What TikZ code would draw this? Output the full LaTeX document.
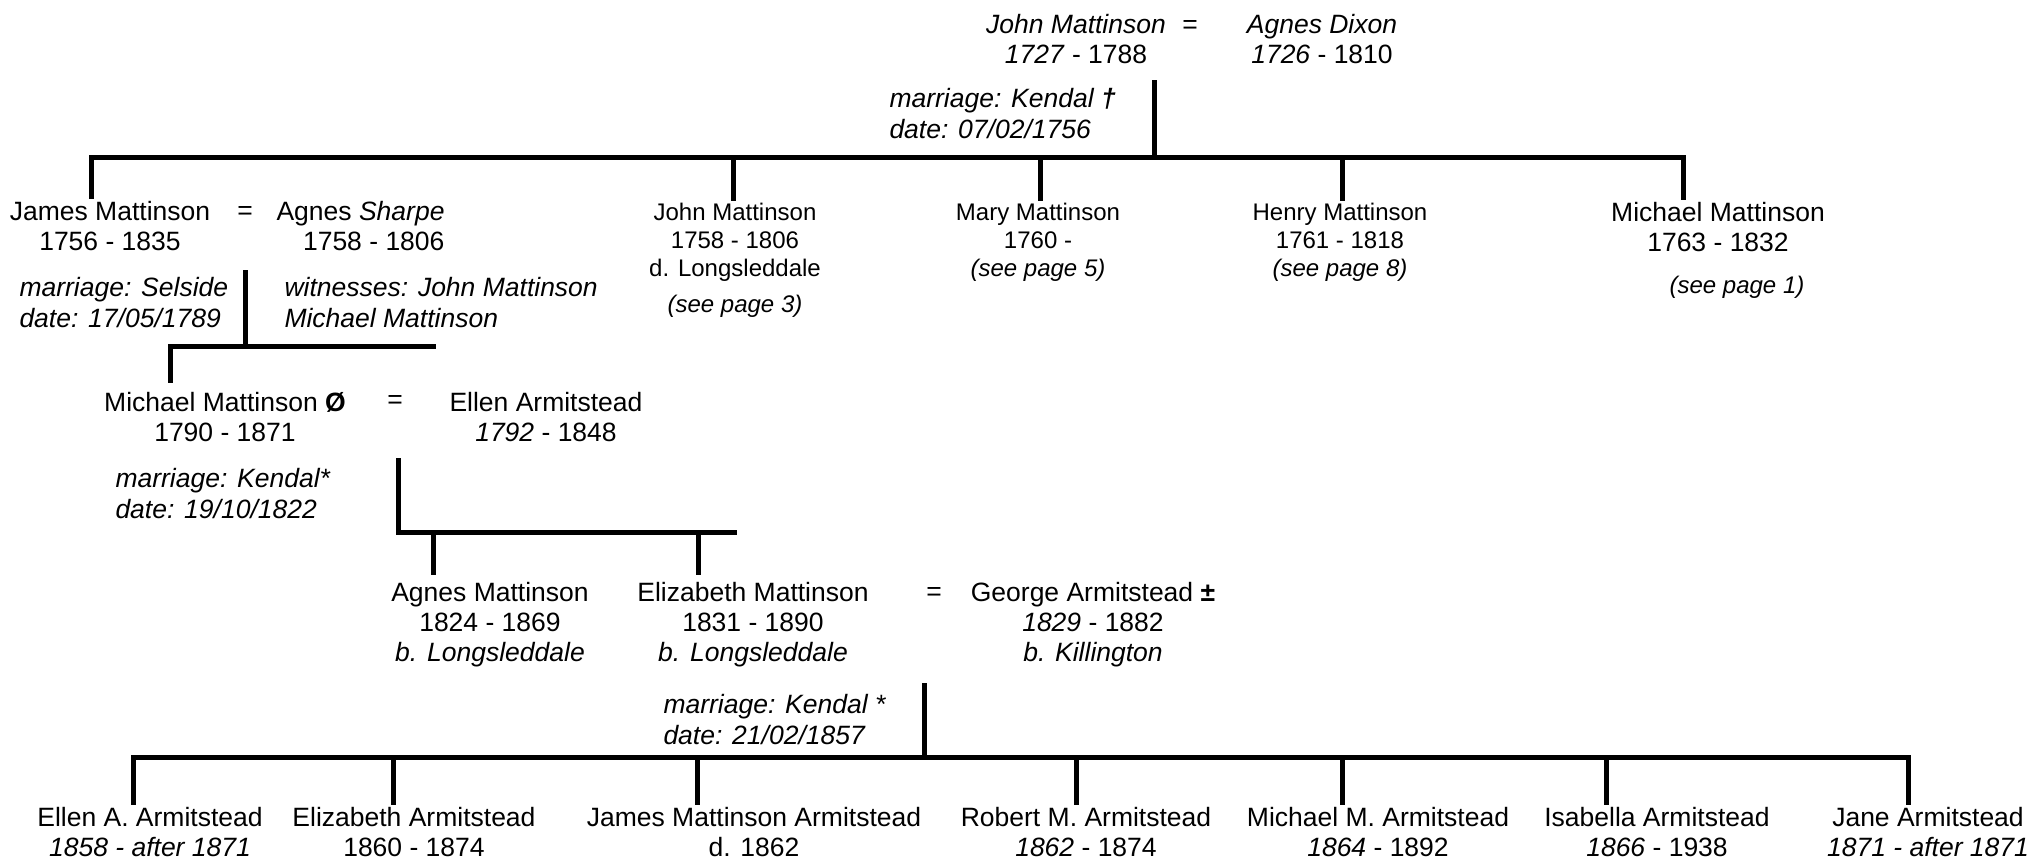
\documentclass[tikz,border=0pt]{standalone}
\usepackage{fontspec}
\setmainfont{Liberation Sans}

\begin{document}
\begin{tikzpicture}[x=0.5pt,y=-0.5pt,line width=2.5pt,line cap=rect]
    \tikzstyle{person}=[align=center,inner sep=0pt,font=\fontsize{13.25}{15}\selectfont]
    \tikzstyle{small}=[person,font=\fontsize{12}{14}\selectfont]
    \tikzstyle{note}=[person,align=left,anchor=west,font=\fontsize{13.25}{15.5}\selectfont\itshape]
    \tikzstyle{drop}=[shorten >=1pt]
    \useasboundingbox (0,0) rectangle (2031,859);

    % generation 1
    \node[person] (john) at (1076,39) {\textit{John Mattinson}\\\textit{1727} - 1788};
    \node[person] (eq-0) at (1190,27) {=};
    \node[person] (dixon) at (1322,39) {\textit{Agnes Dixon}\\\textit{1726} - 1810};
    \node[note] (m-0) at (887,114) {marriage: Kendal \textbf{†}\\date: 07/02/1756};
    \coordinate (c-0) at (1154,82);
    \coordinate (l-0) at (91,157);
    \coordinate (r-0) at (1683,157);
    \draw (c-0) -- (c-0 |- l-0);
    \draw (l-0) -- (r-0);

    % generation 2
    \node[person] (james) at (110,226) {James Mattinson\\1756 - 1835};
    \node[person] (eq-1) at (245,213) {=};
    \node[person,align=right,anchor=east] (sharpe) at (447,226) {Agnes \textit{Sharpe}\\1758 - 1806};
    \node[small] (johnC) at (735,242) {John Mattinson\\1758 - 1806\\d. Longsleddale};
    \node[small] (pg-3) at (735,306) {\textit{(see page 3)}};
    \node[small] (mary) at (1038,242) {Mary Mattinson\\1760 -\\\textit{(see page 5)}};
    \node[small] (henry) at (1340,242) {Henry Mattinson\\1761 - 1818\\\textit{(see page 8)}};
    \node[person] (michael) at (1718,227) {Michael Mattinson\\1763 - 1832};
    \node[small] (pg-1) at (1737,287) {\textit{(see page 1)}};

    \foreach \n/\x in {james/91, johnC/733, mary/1040, henry/1342, michael/1683}
    {
        \coordinate (t-\n) at (\x,157);
        \draw[drop] (t-\n) -- (t-\n |- \n.north);
    }

    \node[note] (m-1) at (17,303) {marriage: Selside\\date: 17/05/1789};
    \node[note] (w-1) at (282,303) {witnesses: John Mattinson\\Michael Mattinson};
    \coordinate (c-1) at (245,272);
    \coordinate (l-1) at (170,346);
    \coordinate (r-1) at (433,346);
    \draw (c-1) -- (c-1 |- l-1);
    \draw (l-1) -- (r-1);

    % generation 3
    \node[person] (michaelM) at (225,417) {Michael Mattinson \textbf{Ø}\\1790 - 1871};
    \node[person] (eq-2) at (395,402) {=};
    \node[person] (ellen) at (546,417) {Ellen Armitstead\\\textit{1792} - 1848};
    \draw[drop,shorten >=4.5pt] (l-1) -- (l-1 |- michaelM.north);

    \node[note] (m-2) at (113,494) {marriage: Kendal*\\date: 19/10/1822};
    \coordinate (c-2) at (398,460);
    \coordinate (r-2) at (734,532);
    \draw (c-2) |- (r-2);

    % generation 4
    \node[person] (agnesM) at (490,625) {Agnes Mattinson\\1824 - 1869\\\textit{b. Longsleddale}};
    \node[person] (eliz) at (753,625) {Elizabeth Mattinson\\1831 - 1890\\\textit{b. Longsleddale}};
    \node[person] (eq-3) at (934,594) {=};
    \node[person] (george) at (1093,625) {George Armitstead \textbf{±}\\\textit{1829} - 1882\\\textit{b. Killington}};

    \foreach \n/\x in {agnesM/433, eliz/698}
    {
        \coordinate (t-\n) at (\x,532);
        \draw[drop,shorten >=4pt] (t-\n) -- (t-\n |- \n.north);
    }

    \node[note] (m-3) at (661,720) {marriage: Kendal *\\date: 21/02/1857};
    \coordinate (c-3) at (924,685);
    \coordinate (l-3) at (133,757);
    \coordinate (r-3) at (1908,757);
    \draw (c-3) -- (c-3 |- l-3);
    \draw (l-3) -- (r-3);

    % generation 5
    \node[person] (ellenA) at (150,832) {Ellen A. Armitstead\\\textit{1858 - after 1871}};
    \node[person] (elizA) at (414,832) {Elizabeth Armitstead\\1860 - 1874};
    \node[person] (jamesA) at (754,832) {James Mattinson Armitstead\\d. 1862};
    \node[person] (robert) at (1086,832) {Robert M. Armitstead\\\textit{1862} - 1874};
    \node[person] (michaelA) at (1378,832) {Michael M. Armitstead\\\textit{1864} - 1892};
    \node[person] (isabella) at (1657,832) {Isabella Armitstead\\\textit{1866} - 1938};
    \node[person] (jane) at (1928,832) {Jane Armitstead\\\textit{1871 - after 1871}};

    \foreach \n/\x in {ellenA/133, elizA/393, jamesA/697, robert/1076, michaelA/1342, isabella/1606, jane/1908}
    {
        \coordinate (t-\n) at (\x,757);
        \draw[drop] (t-\n) -- (t-\n |- \n.north);
    }
\end{tikzpicture}
\end{document}
